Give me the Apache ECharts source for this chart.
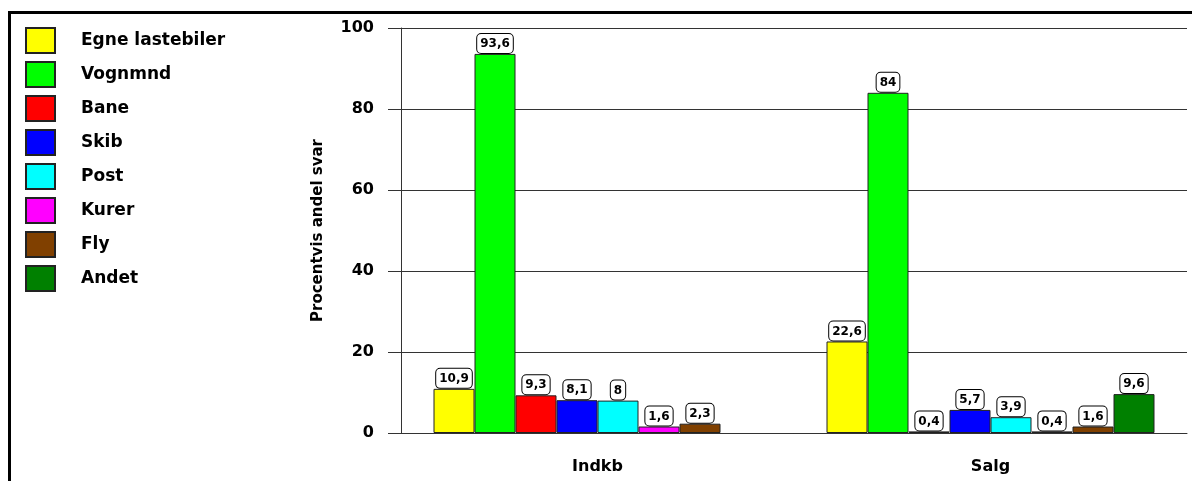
<!DOCTYPE html>
<html>
<head>
<meta charset="utf-8">
<script src="https://cdn.jsdelivr.net/npm/echarts@6/dist/echarts.min.js"></script>
<style>html,body{margin:0;padding:0;background:#fff}#c{width:1192px;height:481px}</style>
</head>
<body>
<div id="c"></div>
<script>
const categories = ['Indkb', 'Salg'];
const seriesNames = ['Egne lastebiler', 'Vognmnd', 'Bane', 'Skib', 'Post', 'Kurer', 'Fly', 'Andet'];
const egneLastebiler = [10.9, 22.6];
const vognmnd = [93.6, 84];
const bane = [9.3, 0.4];
const skib = [8.1, 5.7];
const post = [8, 3.9];
const kurer = [1.6, 0.4];
const fly = [2.3, 1.6];
const andet = [null, 9.6];
const yTicks = [0, 20, 40, 60, 80, 100];

const seriesData = [egneLastebiler, vognmnd, bane, skib, post, kurer, fly, andet];
const colors = ['#FFFF00', '#00FF00', '#FF0000', '#0000FF', '#00FFFF', '#FF00FF', '#804000', '#008000'];
const FONT = 'DejaVu Sans';

const chart = echarts.init(document.getElementById('c'), null, {renderer: 'canvas'});
chart.setOption({
  animation: false,
  backgroundColor: '#fff',
  color: colors,
  graphic: [
    {type: 'line', shape: {x1: 8, y1: 12.5, x2: 1192, y2: 12.5}, style: {stroke: '#000', lineWidth: 3}},
    {type: 'line', shape: {x1: 9.5, y1: 11, x2: 9.5, y2: 481}, style: {stroke: '#000', lineWidth: 3}}
  ],
  legend: {
    orient: 'vertical',
    left: 20,
    top: 22,
    itemWidth: 29,
    itemHeight: 25,
    itemGap: 7,
    icon: 'rect',
    data: seriesNames,
    textStyle: {fontFamily: FONT, fontWeight: 'bold', fontSize: 17, color: '#000', padding: [0, 0, 0, 21]}
  },
  grid: {left: 401, right: 5, top: 28, bottom: 48, containLabel: false},
  xAxis: {
    type: 'category',
    data: categories,
    axisLine: {lineStyle: {color: '#333', width: 1}},
    axisTick: {alignWithLabel: true, length: 11, lineStyle: {color: '#333'}},
    axisLabel: {fontFamily: FONT, fontWeight: 'bold', fontSize: 16, color: '#000', margin: 26}
  },
  yAxis: {
    type: 'value',
    min: 0,
    max: 100,
    interval: 20,
    name: 'Procentvis andel svar',
    nameLocation: 'middle',
    nameRotate: 90,
    nameGap: 75,
    nameTextStyle: {fontFamily: FONT, fontWeight: 'bold', fontSize: 15, color: '#000'},
    axisLine: {show: true, lineStyle: {color: '#333', width: 1}},
    axisTick: {show: true, length: 13, lineStyle: {color: '#333'}},
    splitLine: {show: true, lineStyle: {color: '#333', width: 1}},
    axisLabel: {
      fontFamily: FONT, fontWeight: 'bold', fontSize: 16, color: '#000', margin: 27,
      formatter: v => yTicks.includes(v) ? String(v) : ''
    }
  },
  series: seriesNames.map((name, i) => ({
    name: name,
    type: 'bar',
    data: seriesData[i],
    barWidth: 41,
    barGap: '0%',
    itemStyle: {color: colors[i], borderColor: '#222', borderWidth: 1},
    label: {
      show: true,
      position: 'top',
      distance: 1,
      formatter: p => p.value == null ? '' : String(p.value).replace('.', ','),
      fontFamily: FONT,
      fontWeight: 'bold',
      fontSize: 12,
      color: '#000',
      backgroundColor: '#fff',
      borderColor: '#000',
      borderWidth: 1,
      borderRadius: 4,
      padding: [4, 3, 3, 3]
    }
  }))
});
</script>
</body>
</html>
